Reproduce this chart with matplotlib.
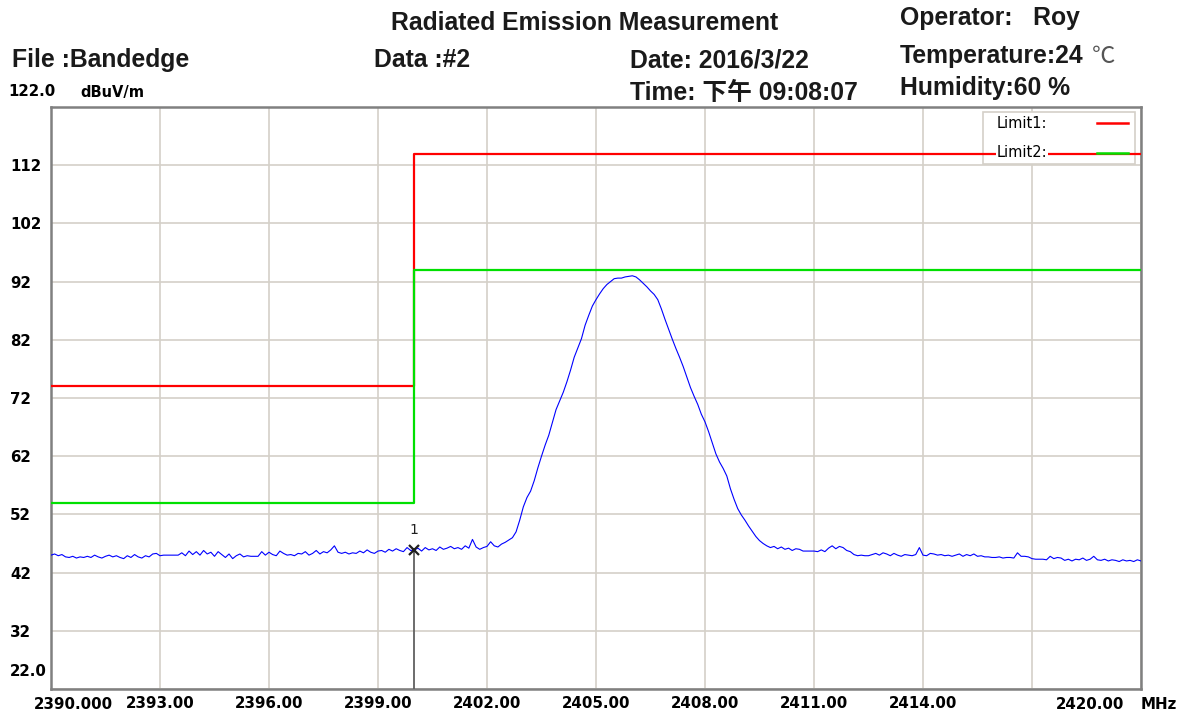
import numpy as np
import matplotlib.pyplot as plt
from matplotlib.patches import Rectangle

# Data
freq_start = 2390.0
freq_step = 0.1
trace_level = [
    45.0, 45.2, 44.9, 45.1, 44.7, 44.6, 44.8, 44.5, 44.7, 44.6,
    44.8, 44.6, 45.0, 44.7, 44.5, 44.8, 45.0, 44.7, 44.9, 44.6,
    44.4, 44.9, 44.6, 45.1, 44.7, 44.5, 44.9, 44.7, 45.2, 45.3,
    44.9, 45.0, 45.0, 45.0, 45.0, 45.0, 45.4, 44.9, 45.7, 45.1,
    45.6, 45.0, 45.8, 45.2, 45.5, 44.8, 45.6, 45.1, 44.6, 45.2,
    44.4, 44.9, 45.2, 44.7, 44.9, 44.8, 44.8, 44.8, 45.6, 45.0,
    45.5, 45.1, 44.9, 45.7, 45.3, 45.0, 45.1, 44.9, 45.3, 45.2,
    45.6, 45.0, 45.3, 45.8, 45.2, 45.6, 45.4, 45.9, 46.6, 45.5,
    45.3, 45.5, 45.2, 45.4, 45.3, 45.7, 45.4, 45.9, 45.5, 45.3,
    45.7, 45.8, 45.5, 46.0, 45.7, 46.1, 45.8, 45.6, 46.3, 45.8,
    45.9, 46.2, 45.7, 46.3, 45.9, 46.1, 45.8, 46.4, 46.0, 46.2,
    46.5, 46.1, 46.3, 46.0, 46.6, 46.2, 47.7, 46.4, 46.0, 46.3,
    46.5, 47.3, 46.6, 46.4, 46.9, 47.2, 47.6, 48.0, 49.0, 51.0,
    53.3, 54.9, 56.0, 57.8, 60.0, 62.0, 63.9, 65.6, 67.8, 70.0,
    71.5, 73.0, 74.8, 76.8, 79.0, 80.6, 82.2, 84.5, 86.2, 87.8,
    88.9, 89.9, 90.8, 91.5, 92.0, 92.5, 92.6, 92.6, 92.8, 92.9,
    93.0, 92.8, 92.3, 91.7, 91.1, 90.4, 89.8, 88.9, 87.3, 85.5,
    83.8, 82.1, 80.5, 79.0, 77.4, 75.6, 73.8, 72.3, 70.9, 69.2,
    67.9, 66.2, 64.3, 62.4, 61.0, 59.9, 58.6, 56.4, 54.6, 53.0,
    51.9, 51.0, 50.0, 49.1, 48.2, 47.5, 47.0, 46.6, 46.3, 46.5,
    46.1, 46.4, 46.0, 46.2, 45.8, 46.1, 46.0, 45.7, 45.7, 45.7,
    45.7, 45.6, 45.9, 45.6, 46.2, 46.6, 46.1, 46.5, 46.3, 45.8,
    45.6, 45.1, 44.9, 45.0, 44.9, 44.9, 45.1, 45.3, 45.0, 45.4,
    45.2, 44.9, 45.3, 45.0, 44.8, 45.1, 45.0, 44.9, 45.1, 46.3,
    45.0, 44.9, 45.3, 45.2, 45.0, 45.1, 44.9, 45.0, 44.8, 45.0,
    45.2, 44.8, 45.1, 44.9, 45.2, 44.8, 44.9, 44.7, 44.7, 44.6,
    44.6, 44.7, 44.5, 44.6, 44.6, 44.5, 45.4, 44.8, 44.8, 44.7,
    44.4, 44.3, 44.3, 44.3, 44.2, 44.8, 44.4, 44.6, 44.5, 44.1,
    44.3, 44.0, 44.3, 44.2, 44.5, 44.1, 44.3, 44.8, 44.2, 44.1,
    44.3, 44.0, 44.2, 44.1, 43.9, 44.2, 44.0, 44.1, 43.9, 44.2,
    44.0,
]
trace_freq = freq_start + freq_step * np.arange(len(trace_level))

limit_freq = [2390.0, 2400.0, 2420.0]
limit1 = [74, 114, 114]
limit2 = [54, 94, 94]

marker_freq = 2400.0

x_ticks = [2390, 2393, 2396, 2399, 2402, 2405, 2408, 2411, 2414, 2417, 2420]
x_labels = ['', '2393.00', '2396.00', '2399.00', '2402.00', '2405.00',
            '2408.00', '2411.00', '2414.00', '', '']
y_ticks = [22, 32, 42, 52, 62, 72, 82, 92, 102, 112, 122]
y_labels = ['', '32', '42', '52', '62', '72', '82', '92', '102', '112', '']

tick_font = 'DejaVu Sans'
tfs = 10.8
head_font = ['Liberation Sans', 'Noto Sans CJK SC', 'DejaVu Sans']

fig = plt.figure(figsize=(11.86, 7.16), dpi=100)
ax = fig.add_axes([51 / 1186, 1 - 689 / 716, 1090 / 1186, 582 / 716])

# limit lines and trace
ax.plot(limit_freq, limit1, drawstyle='steps-post', color='#ff0000', lw=1.6, zorder=3)
ax.plot(limit_freq, limit2, drawstyle='steps-post', color='#00e000', lw=1.6, zorder=3)
ax.plot(trace_freq, trace_level, color='#0000ff', lw=0.8, zorder=4)

# marker 1 at the band edge
marker_level = np.interp(marker_freq, trace_freq, trace_level)
ax.plot([marker_freq, marker_freq], [22, marker_level], color='#606060', lw=1.3, zorder=5)
ax.plot(marker_freq, marker_level, 'x', color='#202020', ms=7, mew=1.6, zorder=6)
ax.annotate('1', (marker_freq, marker_level), xytext=(0, 9), textcoords='offset points',
            ha='center', va='bottom', fontsize=10, family='DejaVu Sans', color='#202020')

ax.set_xlim(2390, 2420)
ax.set_ylim(22, 122)
ax.set_xticks(x_ticks)
ax.set_xticklabels(x_labels, family=tick_font, fontweight='bold', fontsize=tfs)
ax.set_yticks(y_ticks)
ax.set_yticklabels(y_labels, family=tick_font, fontweight='bold', fontsize=tfs)
for lab in ax.get_yticklabels():
    lab.set_horizontalalignment('left')
ax.tick_params(axis='x', length=0, pad=5)
ax.tick_params(axis='y', length=0, pad=29.5)

ax.grid(True, color='#d4d0c8', lw=1.2, zorder=0)
for sp in ax.spines.values():
    sp.set_color('#808080')
    sp.set_linewidth(1.8)

# legend box drawn by hand (red limit line runs across it)
ax.add_patch(Rectangle((0.855, 0.902), 0.1395, 0.09, transform=ax.transAxes,
                       facecolor='white', edgecolor='#d4d0c8', lw=1.2, zorder=2))
ax.text(0.8676, 0.972, 'Limit1:', transform=ax.transAxes, va='center', fontsize=10.5,
        family=tick_font, zorder=7)
ax.text(0.8676, 0.9215, 'Limit2:', transform=ax.transAxes, va='center', fontsize=10.5,
        family=tick_font, zorder=7,
        bbox=dict(facecolor='white', edgecolor='none', pad=0.5))
ax.plot([0.960, 0.988], [0.972, 0.972], transform=ax.transAxes, color='#ff0000', lw=1.8, zorder=7)
ax.plot([0.960, 0.988], [0.9215, 0.9215], transform=ax.transAxes, color='#00e000', lw=1.8, zorder=7)

# axis end labels
ax.annotate('2390.000', (0, 0), xycoords='axes fraction', xytext=(-12, -5.5),
            textcoords='offset points', ha='left', va='top',
            family=tick_font, fontweight='bold', fontsize=tfs)
ax.annotate('2420.00', (1, 0), xycoords='axes fraction', xytext=(-12, -5.5),
            textcoords='offset points', ha='right', va='top',
            family=tick_font, fontweight='bold', fontsize=tfs)
ax.annotate('MHz', (1, 0), xycoords='axes fraction', xytext=(0, -5.5),
            textcoords='offset points', ha='left', va='top',
            family=tick_font, fontweight='bold', fontsize=tfs)
fig.text(10 / 1186, 1 - 672 / 716, '22.0', va='center', ha='left',
         family=tick_font, fontweight='bold', fontsize=tfs)
fig.text(8 / 1186, 1 - 91 / 716, '122.0', va='center', ha='left',
         family=tick_font, fontweight='bold', fontsize=tfs)
fig.text(80 / 1186, 1 - 92 / 716, 'dBuV/m', va='center', ha='left',
         family=tick_font, fontweight='bold', fontsize=10.5)

# header block
hc = '#1a1a1a'
hs = 17.8
fig.text(585 / 1186, 1 - 30 / 716, 'Radiated Emission Measurement', ha='center',
         va='baseline', fontsize=hs, fontweight='bold', family=head_font, color=hc)
fig.text(900 / 1186, 1 - 25 / 716, 'Operator:   Roy', va='baseline',
         fontsize=hs, fontweight='bold', family=head_font, color=hc)
fig.text(12 / 1186, 1 - 67 / 716, 'File :Bandedge', va='baseline',
         fontsize=hs, fontweight='bold', family=head_font, color=hc)
fig.text(374 / 1186, 1 - 67 / 716, 'Data :#2', va='baseline',
         fontsize=hs, fontweight='bold', family=head_font, color=hc)
fig.text(630 / 1186, 1 - 68 / 716, 'Date: 2016/3/22', va='baseline',
         fontsize=hs, fontweight='bold', family=head_font, color=hc)
fig.text(900 / 1186, 1 - 63 / 716, 'Temperature:24', va='baseline',
         fontsize=hs, fontweight='bold', family=head_font, color=hc)
fig.text(1092 / 1186, 1 - 63 / 716, '℃', va='baseline',
         fontsize=hs - 1, family=['Noto Sans CJK SC', 'DejaVu Sans'], color='#555555')
fig.text(630 / 1186, 1 - 100 / 716, 'Time: 下午 09:08:07', va='baseline',
         fontsize=hs, fontweight='bold', family=head_font, color=hc)
fig.text(900 / 1186, 1 - 95 / 716, 'Humidity:60 %', va='baseline',
         fontsize=hs, fontweight='bold', family=head_font, color=hc)

plt.savefig('out.png', dpi=100)
